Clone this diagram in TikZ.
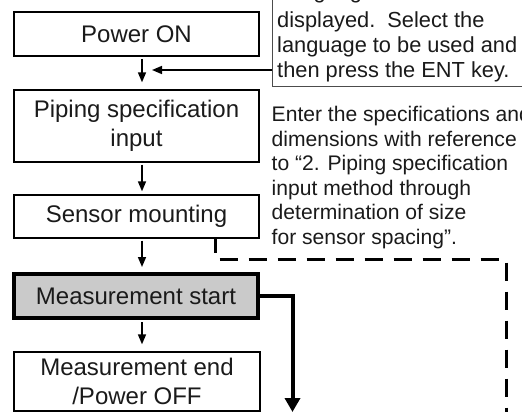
\documentclass[tikz,border=0pt]{standalone}
\usepackage{fontspec}
\setmainfont{Liberation Sans}
\usetikzlibrary{arrows.meta}
\definecolor{ink}{HTML}{1A1A1A}
\definecolor{boxgray}{HTML}{CACACA}
\begin{document}
\begin{tikzpicture}[x=1pt,y=-1pt,
  stepbox/.style={draw=black,line width=1.3pt,rectangle,inner sep=0pt,
    text=ink,font=\fontsize{24}{29}\selectfont,align=center},
  note/.style={anchor=base west,inner sep=0pt,text=ink,
    font=\fontsize{21.8}{25}\selectfont},
  spec/.style={note,font=\fontsize{21.1}{25}\selectfont},
  thinarr/.style={draw=black,line width=1.5pt,
    -{Triangle[width=8pt,length=10pt]}},
  thickarr/.style={draw=black,line width=4pt,
    -{Triangle[width=15pt,length=14pt]}},
  dashline/.style={draw=black,line width=3pt,
    dash pattern=on 18pt off 11pt,dash phase=4pt}]
\useasboundingbox (0,0) rectangle (522,412);

% flow boxes
\node[stepbox,line width=2pt,minimum width=245pt,minimum height=44pt]
  (pon) at (136.5,34) {\raisebox{-3pt}{Power ON}};
\node[stepbox,minimum width=245pt,minimum height=72pt]
  (pip) at (136.5,126) {Piping specification\\input};
\node[stepbox,minimum width=245pt,minimum height=43pt]
  (sens) at (136.5,216.5) {\raisebox{-1.5pt}{Sensor mounting}};
\node[stepbox,line width=4pt,fill=boxgray,minimum width=244pt,minimum height=44pt]
  (mst) at (136,296) {\raisebox{-3pt}{Measurement start}};
\node[stepbox,minimum width=246pt,minimum height=59pt]
  (mend) at (137,381.5) {Measurement end\\/Power OFF};

% language selection note
\node[draw=black!70,line width=1pt,rectangle,inner sep=0pt,
  minimum width=268pt,minimum height=106pt] (lang) at (406,33) {};
\node[note] (l0) at (277,-1) {Language selection screen is};
\node[note] (l1) at (277,27.5) {displayed.\ \ Select the};
\node[note] (l2) at (277,52.5) {language to be used and};
\node[note] (l3) at (277,77.5) {then press the ENT key.};

% specification note
\node[spec] (s1) at (271.5,121.5) {Enter the specifications and};
\node[spec] (s2) at (271.5,146) {dimensions with reference};
\node[spec] (s3) at (271.5,170.5) {to “2. Piping specification};
\node[spec] (s4) at (271.5,195) {input method through};
\node[spec] (s5) at (271.5,219.5) {determination of size};
\node[spec] (s6) at (271.5,244) {for sensor spacing”.};

% main flow arrows
\coordinate (a1mid) at (142,70);
\draw[thinarr,shorten <=2pt,shorten >=7pt]
  ([xshift=5.5pt]pon.south) -- ([xshift=5.5pt]pip.north);
\draw[thinarr] (lang.west |- a1mid) -- ([xshift=10pt]a1mid);
\draw[thinarr,shorten <=2pt,shorten >=3pt]
  ([xshift=5.5pt]pip.south) -- ([xshift=5.5pt]sens.north);
\draw[thinarr,shorten <=2pt,shorten >=5pt]
  ([xshift=5.5pt]sens.south) -- ([xshift=6pt]mst.north);
\draw[thinarr,shorten <=2pt,shorten >=7pt]
  ([xshift=6pt]mst.south) -- ([xshift=5pt]mend.north);

% measurement output
\coordinate (outend) at (292.5,412);
\draw[thickarr] (mst.east) -| (outend);

% dashed path from sensor mounting
\coordinate (dcorner) at (506,259);
\coordinate (dend) at (506,420);
\draw[dashline] ([xshift=78.5pt]sens.south) |- (dcorner) -- (dend);
\end{tikzpicture}
\end{document}
